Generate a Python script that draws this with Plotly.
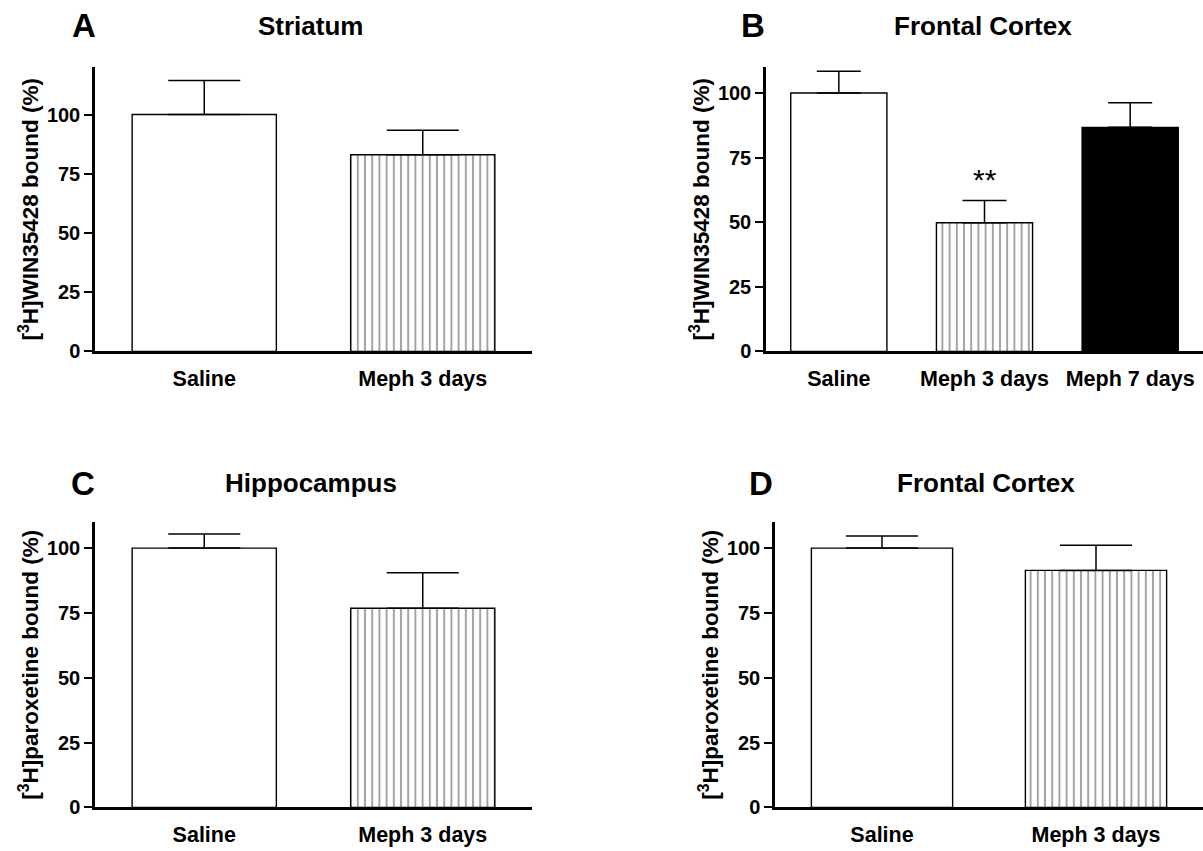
import plotly.graph_objects as go

# ---- data ----
cats_A = ["Saline", "Meph 3 days"]
vals_A = [100, 83]
err_A = [14.3, 10.3]

cats_B = ["Saline", "Meph 3 days", "Meph 7 days"]
vals_B = [100, 49.8, 86.7]
err_B = [8.4, 8.6, 9.5]

cats_C = ["Saline", "Meph 3 days"]
vals_C = [100, 76.8]
err_C = [5.4, 13.7]

cats_D = ["Saline", "Meph 3 days"]
vals_D = [100, 91.4]
err_D = [4.7, 9.7]

yticks = [0, 25, 50, 75, 100]

W, H = 1203, 851
FONT = "Liberation Sans, Arial, sans-serif"

fig = go.Figure()

def px_x(v):
    return max(0.0, min(1.0, v / W))

def px_y(v):
    return max(0.0, min(1.0, 1 - v / H))

panels = [
    ("A", cats_A, vals_A, err_A, ["white", "white"], ["", "|"], (95, 532), (356, 68), 120, 36,
     "[<sup>3</sup>H]WIN35428 bound (%)"),
    ("B", cats_B, vals_B, err_B, ["white", "white", "black"], ["", "|", ""], (766, 1203), (356, 68), 110, 22,
     "[<sup>3</sup>H]WIN35428 bound (%)"),
    ("C", cats_C, vals_C, err_C, ["white", "white"], ["", "|"], (95, 532), (818, 529), 110, 36,
     "[<sup>3</sup>H]paroxetine bound (%)"),
    ("D", cats_D, vals_D, err_D, ["white", "white"], ["", "|"], (775, 1203), (818, 529), 110, 36,
     "[<sup>3</sup>H]paroxetine bound (%)"),
]

layout_axes = {}
for i, (name, cats, vals, errs, fills, pats, xd, yd, ymax, capw, ytitle) in enumerate(panels):
    idx = "" if i == 0 else str(i + 1)
    fig.add_trace(go.Bar(
        x=cats, y=vals,
        xaxis="x" + idx, yaxis="y" + idx,
        width=0.66,
        marker=dict(
            color=fills,
            line=dict(color="black", width=1.4),
            pattern=dict(shape=pats, fgcolor="black", bgcolor="white", size=7.2, solidity=0.27),
        ),
        error_y=dict(type="data", symmetric=False, array=errs, arrayminus=[0] * len(errs),
                     color="black", thickness=1.5, width=capw),
        showlegend=False,
        hoverinfo="skip",
    ))
    layout_axes["xaxis" + idx] = dict(
        domain=[px_x(xd[0]), px_x(xd[1])],
        anchor="y" + idx,
        range=[-0.5, len(cats) - 0.5],
        showline=True, linecolor="black", linewidth=2.5,
        ticks="", showgrid=False, zeroline=False,
        ticklabelstandoff=6,
        tickfont=dict(family=FONT, size=21.5, color="black", weight="bold"),
        fixedrange=True,
    )
    layout_axes["yaxis" + idx] = dict(
        domain=[px_y(yd[0]), px_y(yd[1])],
        anchor="x" + idx,
        range=[0, ymax],
        tickvals=yticks,
        showline=True, linecolor="black", linewidth=2.5,
        ticks="outside", ticklen=8, tickwidth=2, tickcolor="black",
        showgrid=False, zeroline=False,
        tickfont=dict(family=FONT, size=20, color="black", weight="bold"),
        title=dict(text=ytitle, font=dict(family=FONT, size=22.5, color="black", weight="bold"), standoff=2),
        fixedrange=True,
    )

fig.update_layout(**layout_axes)

annotations = []
for letter, lx, ly, lanchor, title, tx, ty in [
    ("A", 84, 5, "top", "Striatum", 310, 26),
    ("B", 753, 5, "top", "Frontal Cortex", 983, 26),
    ("C", 83, 490, "middle", "Hippocampus", 311, 489),
    ("D", 761, 490, "middle", "Frontal Cortex", 986, 489),
]:
    annotations.append(dict(text="<b>" + letter + "</b>", x=px_x(lx), y=px_y(ly), xref="paper", yref="paper",
                            showarrow=False, xanchor="center", yanchor=lanchor,
                            font=dict(family=FONT, size=33, color="black")))
    annotations.append(dict(text="<b>" + title + "</b>", x=px_x(tx), y=px_y(ty), xref="paper", yref="paper",
                            showarrow=False, xanchor="center", yanchor="middle",
                            font=dict(family=FONT, size=26, color="black")))

annotations.append(dict(text="**", x="Meph 3 days", y=vals_B[1] + err_B[1] + 8, xref="x2", yref="y2",
                        showarrow=False, xanchor="center", yanchor="middle",
                        font=dict(family=FONT, size=30, color="black")))

fig.update_layout(
    width=W, height=H,
    margin=dict(l=0, r=0, t=0, b=0),
    paper_bgcolor="white", plot_bgcolor="white",
    annotations=annotations,
    hovermode=False,
)

# remove the page's default body margin so the figure fills the window exactly
fig.write_html("out.html", config={"displayModeBar": False},
               post_script="document.body.style.margin='0';document.body.style.overflow='hidden';")
